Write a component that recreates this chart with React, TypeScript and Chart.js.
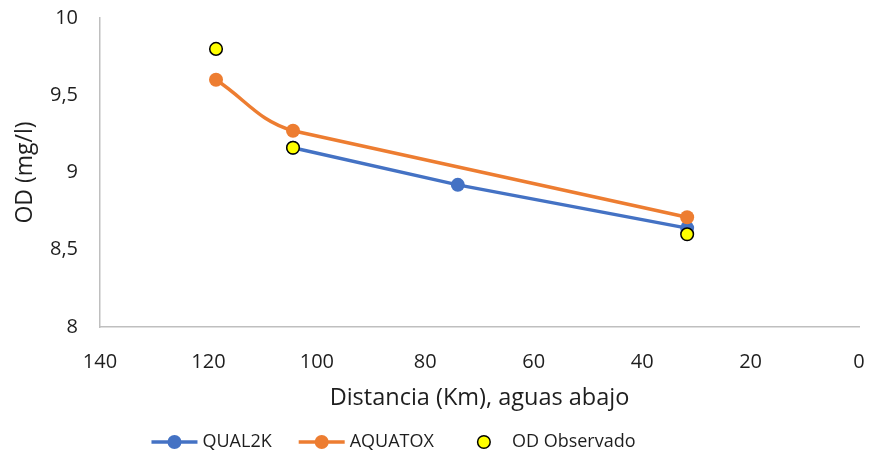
import { useEffect, useRef } from 'react';
import { Chart, registerables } from 'chart.js';

Chart.register(...registerables);

// Dissolved oxygen along the river (km downstream)
const qual2kKm = [104.4, 74, 31.7];
const qual2kOD = [9.16, 8.92, 8.64];

const aquatoxKm = [118.6, 104.4, 31.7];
const aquatoxOD = [9.6, 9.27, 8.71];

const observedKm = [118.6, 104.4, 31.7];
const observedOD = [9.8, 9.16, 8.6];

const xTickValues = [0, 20, 40, 60, 80, 100, 120, 140];
const yTickValues = [8, 8.5, 9, 9.5, 10];

const seriesNames = ['QUAL2K', 'AQUATOX', 'OD Observado'];

const BLUE = '#4472C4';
const ORANGE = '#ED7D31';
const YELLOW = '#FFFF00';
const TEXT = '#1e1e1e';
const AXIS = '#BFBFBF';
const FONT = '"Open Sans", sans-serif';

const toPoints = (xs: number[], ys: number[]) => xs.map((x, i) => ({ x, y: ys[i] }));

// Legend drawn under the axis title: line + marker symbols like the plotted series
const bottomLegend = {
  id: 'bottomLegend',
  afterDraw(chart: any) {
    const ctx: CanvasRenderingContext2D = chart.ctx;
    const symbolW = 46;
    const gap = 5;
    const itemGap = 27;
    const centerX = 393.5;
    const y = chart.height - 11;
    ctx.save();
    ctx.font = `18px ${FONT}`;
    const widths = seriesNames.map((n) => symbolW + gap + ctx.measureText(n).width);
    const total = widths.reduce((a, b) => a + b, 0) + itemGap * (widths.length - 1);
    let x = centerX - total / 2;
    seriesNames.forEach((name, i) => {
      const cx = x + symbolW / 2;
      if (i < 2) {
        const color = i === 0 ? BLUE : ORANGE;
        ctx.strokeStyle = color;
        ctx.lineWidth = 3.5;
        ctx.beginPath();
        ctx.moveTo(x, y);
        ctx.lineTo(x + symbolW, y);
        ctx.stroke();
        ctx.fillStyle = color;
        ctx.beginPath();
        ctx.arc(cx, y, 7, 0, Math.PI * 2);
        ctx.fill();
      } else {
        ctx.fillStyle = YELLOW;
        ctx.strokeStyle = '#000';
        ctx.lineWidth = 1.5;
        ctx.beginPath();
        ctx.arc(cx, y, 6.3, 0, Math.PI * 2);
        ctx.fill();
        ctx.stroke();
      }
      ctx.fillStyle = TEXT;
      ctx.textAlign = 'left';
      ctx.textBaseline = 'middle';
      ctx.fillText(name, x + symbolW + gap, y);
      x += widths[i] + itemGap;
    });
    ctx.restore();
  },
};

export default function App() {
  const canvasRef = useRef<HTMLCanvasElement | null>(null);

  useEffect(() => {
    if (!canvasRef.current) return;
    const chart = new Chart(canvasRef.current, {
      type: 'line',
      data: {
        datasets: [
          {
            label: seriesNames[2],
            data: toPoints(observedKm, observedOD),
            showLine: false,
            pointRadius: 6.3,
            pointBackgroundColor: YELLOW,
            pointBorderColor: '#000',
            pointBorderWidth: 1.5,
            order: 0,
          },
          {
            // smoothed upstream reach of AQUATOX, with its markers
            label: seriesNames[1],
            data: toPoints(aquatoxKm, aquatoxOD),
            borderColor: ORANGE,
            borderWidth: 3.5,
            tension: 0.4,
            pointRadius: 7,
            pointBackgroundColor: ORANGE,
            pointBorderColor: ORANGE,
            pointBorderWidth: 0,
            segment: {
              borderColor: (c: any) => (c.p0DataIndex >= 1 ? 'rgba(0,0,0,0)' : ORANGE),
            },
            order: 1,
          },
          {
            // straight downstream reach of AQUATOX
            label: seriesNames[1] + ' tramo',
            data: toPoints(aquatoxKm.slice(1), aquatoxOD.slice(1)),
            borderColor: ORANGE,
            borderWidth: 3.5,
            tension: 0,
            pointRadius: 0,
            order: 2,
          },
          {
            label: seriesNames[0],
            data: toPoints(qual2kKm, qual2kOD),
            borderColor: BLUE,
            borderWidth: 3.5,
            tension: 0,
            pointRadius: 7,
            pointBackgroundColor: BLUE,
            pointBorderColor: BLUE,
            pointBorderWidth: 0,
            order: 3,
          },
        ],
      },
      options: {
        responsive: false,
        animation: false,
        layout: { padding: { left: 0, right: 11, top: 18, bottom: 41 } },
        plugins: {
          legend: { display: false },
          tooltip: { enabled: false },
        },
        scales: {
          x: {
            type: 'linear',
            reverse: true,
            min: 0,
            max: 140,
            afterBuildTicks: (s: any) => {
              s.ticks = xTickValues.map((v) => ({ value: v }));
            },
            afterFit: (s: any) => {
              s.height = 85;
              s.paddingLeft = 0;
              s.paddingRight = 0;
            },
            grid: { display: false, drawTicks: false },
            border: { display: true, color: AXIS, width: 1.5 },
            ticks: {
              padding: 23,
              color: TEXT,
              font: { family: FONT, size: 20 },
              maxRotation: 0,
            },
            title: {
              display: true,
              text: 'Distancia (Km), aguas abajo',
              color: TEXT,
              font: { family: FONT, size: 23.5 },
              padding: { top: 0, bottom: 0 },
            },
          },
          y: {
            type: 'linear',
            min: 8,
            max: 10,
            afterBuildTicks: (s: any) => {
              s.ticks = yTickValues.map((v) => ({ value: v }));
            },
            afterFit: (s: any) => {
              s.width = 100;
              s.paddingTop = 0;
              s.paddingBottom = 0;
            },
            grid: { display: false, drawTicks: false },
            border: { display: true, color: AXIS, width: 1.5 },
            ticks: {
              padding: 22,
              color: TEXT,
              font: { family: FONT, size: 20 },
              callback: (v: any) => String(v).replace('.', ','),
            },
            title: {
              display: true,
              text: 'OD (mg/l)',
              color: TEXT,
              font: { family: FONT, size: 23 },
              padding: { top: 12, bottom: 0 },
            },
          },
        },
      },
      plugins: [bottomLegend],
    });
    return () => chart.destroy();
  }, []);

  return (
    <div style={{ position: 'absolute', left: 0, top: 0, width: 870, height: 453, background: '#fff' }}>
      <canvas ref={canvasRef} width={870} height={453} style={{ display: 'block' }} />
    </div>
  );
}
